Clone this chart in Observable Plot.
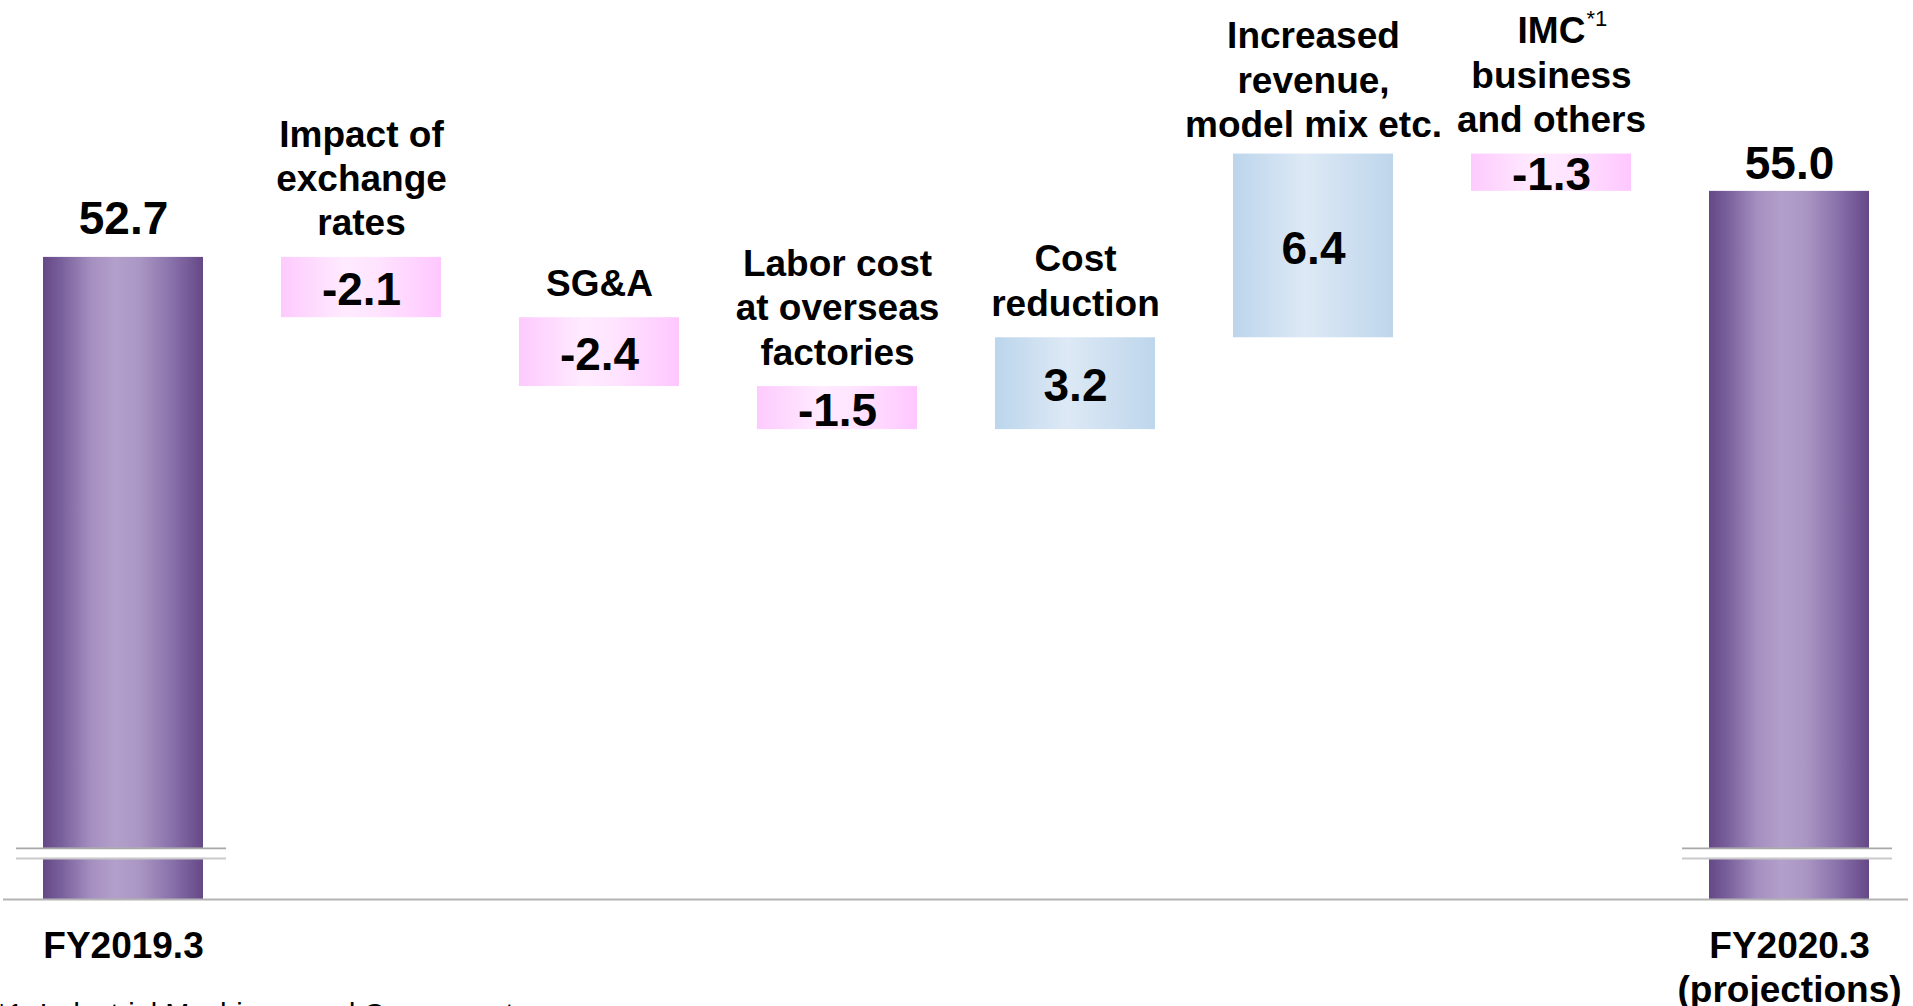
<!DOCTYPE html>
<html><head><meta charset="utf-8">
<script src="https://cdn.jsdelivr.net/npm/d3@7"></script>
<script src="https://cdn.jsdelivr.net/npm/@observablehq/plot@0.6"></script>
<style>
html,body{margin:0;padding:0;background:#fff;overflow:hidden;}
#chart svg{overflow:visible;display:block}
#note{font-family:"Liberation Sans",Arial,sans-serif;font-size:29px;line-height:1.15;margin-left:-4px;margin-top:3px;white-space:nowrap;color:#000}
</style></head><body>
<div id="chart"></div>
<div id="note">*1: Industrial Machinery and Components</div>
<script>
// ---- data ----
const startLabel = "FY2019.3";
const endLabel = "FY2020.3\n(projections)";
const startValue = 52.7;
const endValue = 55.0;
const stepLabels = [
  "Impact of\nexchange\nrates",
  "SG&A",
  "Labor cost\nat overseas\nfactories",
  "Cost\nreduction",
  "Increased\nrevenue,\nmodel mix etc.",
  "IMC\nbusiness\nand others"
];
const stepValues = [-2.1, -2.4, -1.5, 3.2, 6.4, -1.3];
const footnoteMark = "*1";
// broken value axis
const axisMin = 30.33, axisMax = 61.65;
const breakLow = 31.76, breakHigh = 32.11;

// ---- build waterfall rows ----
const totals = [
  {key: startLabel, y1: axisMin, y2: startValue, value: startValue},
  {key: endLabel, y1: axisMin, y2: endValue, value: endValue}
];
const steps = [];
let cum = startValue;
stepLabels.forEach((l, i) => {
  const v = stepValues[i];
  steps.push({key: l, y1: cum, y2: +(cum + v).toFixed(2), value: v});
  cum += v;
});
const domain = [startLabel, ...stepLabels, endLabel];
const neg = steps.filter(d => d.value < 0);
const pos = steps.filter(d => d.value >= 0);

const FONT = '"Liberation Sans", Arial, sans-serif';
const topOf = d => Math.max(d.y1, d.y2);
const valueText = d => d.value.toFixed(1);

const svg = Plot.plot({
  width: 1913,
  height: 995,
  marginLeft: 43,
  marginRight: 44,
  marginTop: 0,
  marginBottom: 96,
  style: {fontFamily: FONT, overflow: "visible", background: "white", color: "black"},
  x: {domain, paddingInner: 0.328, paddingOuter: 0, axis: null},
  y: {domain: [axisMin, axisMax], axis: null},
  marks: [
    Plot.barY(totals, {x: "key", y1: "y1", y2: "y2", fill: "url(#gPurple)"}),
    Plot.barY(neg, {x: "key", y1: "y1", y2: "y2", fill: "url(#gPink)"}),
    Plot.barY(pos, {x: "key", y1: "y1", y2: "y2", fill: "url(#gBlue)"}),
    // axis break
    Plot.barY(totals, {x: "key", y1: () => breakLow, y2: () => breakHigh, fill: "white"}),
    Plot.tickY(totals, {x: "key", y: () => breakHigh, stroke: "#a8a8a8", strokeWidth: 1.6, insetLeft: -27, insetRight: -23}),
    Plot.tickY(totals, {x: "key", y: () => breakLow, stroke: "#cacaca", strokeWidth: 2, insetLeft: -27, insetRight: -23}),
    // baseline
    Plot.ruleY([axisMin], {stroke: "#b3b3b3", strokeWidth: 2, insetLeft: -40, insetRight: -39}),
    // total value labels
    Plot.text(totals.slice(0, 1), {x: "key", y: "y2", text: valueText, dy: -23, lineAnchor: "bottom",
      fontSize: 46, fontWeight: "bold"}),
    Plot.text(totals.slice(1), {x: "key", y: "y2", text: valueText, dy: -12, lineAnchor: "bottom",
      fontSize: 46, fontWeight: "bold"}),
    // total category labels (below axis)
    Plot.text(totals, {x: "key", y: "y1", text: "key", dy: 27, lineAnchor: "top", lineHeight: 1.2,
      fontSize: 37, fontWeight: "bold"}),
    // step value labels
    Plot.text(steps, {x: "key", y: d => (d.y1 + d.y2) / 2, text: valueText, dy: 3,
      fontSize: 46, fontWeight: "bold"}),
    // step category labels (above boxes)
    Plot.text(steps.filter(d => !d.key.startsWith("Increased")), {x: "key", y: topOf, text: "key", dy: -22,
      lineAnchor: "bottom", lineHeight: 1.2, fontSize: 37, fontWeight: "bold"}),
    Plot.text(steps.filter(d => d.key.startsWith("Increased")), {x: "key", y: topOf, text: "key", dy: -17,
      lineAnchor: "bottom", lineHeight: 1.2, fontSize: 37, fontWeight: "bold"}),
    // superscript footnote mark on IMC
    Plot.text(steps.filter(d => d.key.startsWith("IMC")), {x: "key", y: topOf, text: () => footnoteMark,
      dx: 35, dy: -128, textAnchor: "start", lineAnchor: "bottom", fontSize: 22})
  ]
});

const defs = d3.select(svg).insert("defs", ":first-child");
function grad(id, stops) {
  const g = defs.append("linearGradient").attr("id", id)
    .attr("x1", "0").attr("x2", "1").attr("y1", "0").attr("y2", "0");
  stops.forEach(([o, c]) => g.append("stop").attr("offset", o).attr("stop-color", c));
}
grad("gPurple", [[0, "#654887"], [0.12, "#7a619c"], [0.3, "#a58fc0"], [0.45, "#b29fca"], [0.6, "#ab97c4"], [0.8, "#8a72ab"], [1, "#654887"]]);
grad("gPink", [[0, "#fdcafd"], [0.4, "#ffebff"], [0.6, "#ffe4ff"], [1, "#ffc7ff"]]);
grad("gBlue", [[0, "#bcd5ec"], [0.45, "#dde9f5"], [1, "#bed6ec"]]);

document.getElementById("chart").appendChild(svg);
</script>
</body></html>
